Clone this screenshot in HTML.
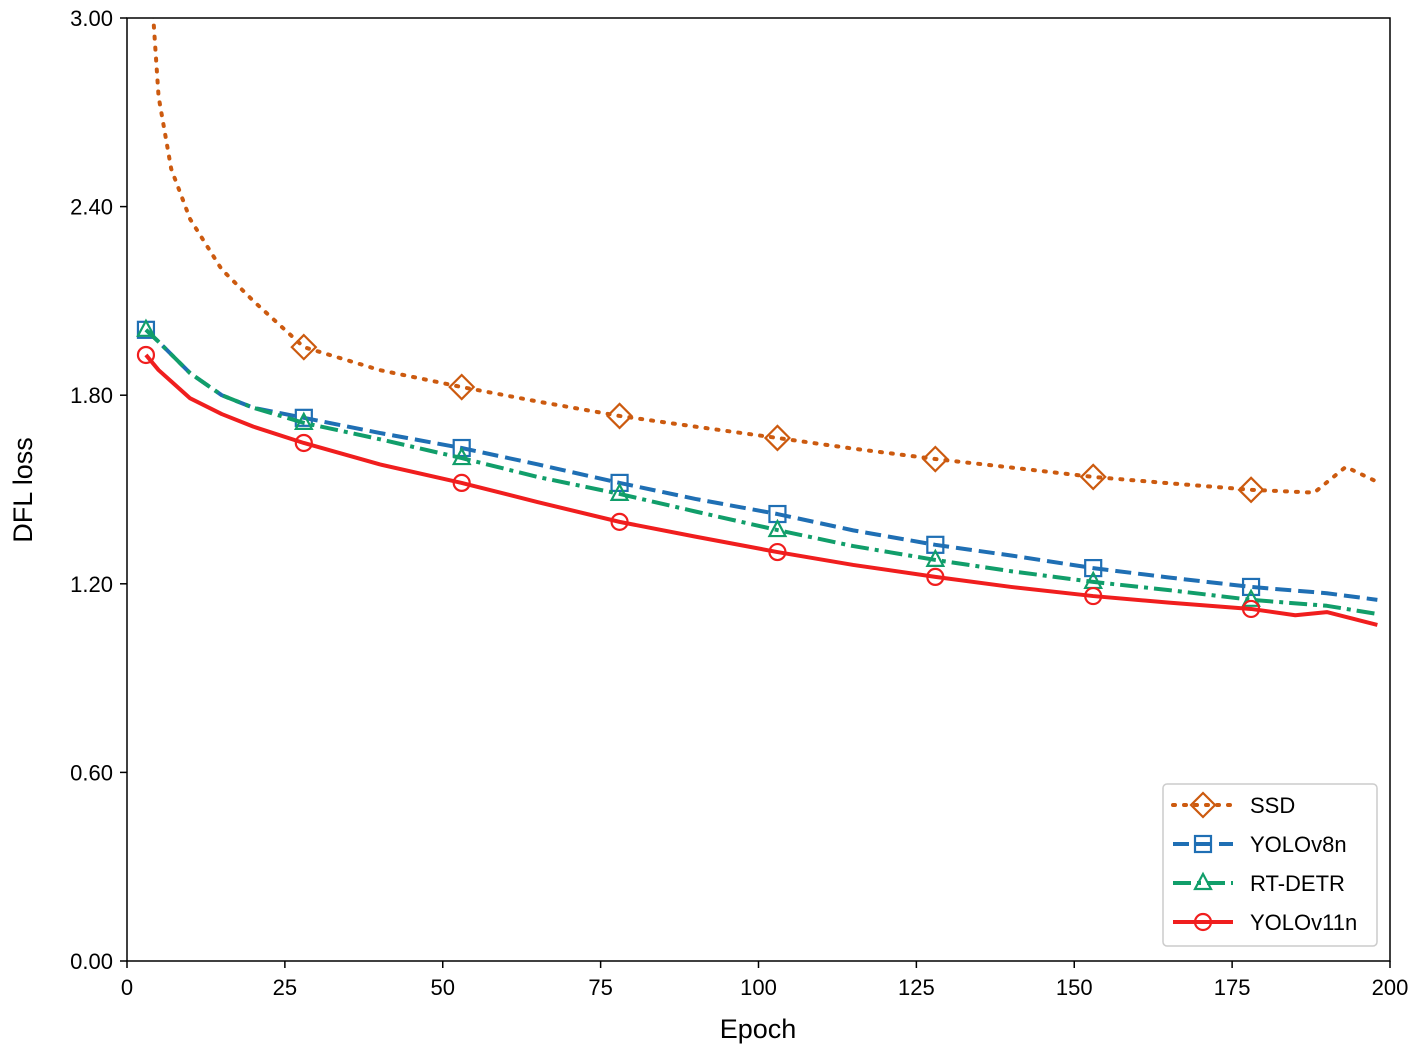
<!DOCTYPE html>
<html><head><meta charset="utf-8"><style>
html,body{margin:0;padding:0;background:#fff;}
svg{display:block;font-family:"WenQuanYi Zen Hei","Liberation Sans",sans-serif;}
</style></head><body>
<svg id="chart" width="1417" height="1052" viewBox="0 0 1417 1052" xmlns="http://www.w3.org/2000/svg">
<defs><clipPath id="clip"><rect x="127" y="18" width="1263" height="943"/></clipPath></defs>
<g id="plot" clip-path="url(#clip)"></g>
<rect x="127" y="18" width="1263" height="943" fill="none" stroke="#000" stroke-width="1.5"/>
<g id="axes"></g>
<text x="758" y="1038" font-size="27" text-anchor="middle">Epoch</text>
<text transform="translate(32,490) rotate(-90)" font-size="27" text-anchor="middle">DFL loss</text>
<g id="legend"></g>
</svg>
<script>
const xTicks=[0,25,50,75,100,125,150,175,200];
const yTicks=[0,0.6,1.2,1.8,2.4,3.0];
const yTickLabels=["0.00","0.60","1.20","1.80","2.40","3.00"];
const seriesNames=["SSD","YOLOv8n","RT-DETR","YOLOv11n"];
const ssdEpochs=[3,4,5,7,10,15,20,28,40,53,65,78,90,103,115,128,140,153,165,178,188,193,198];
const ssdValues=[3.5,3.05,2.75,2.52,2.36,2.2,2.1,1.953,1.88,1.826,1.78,1.734,1.70,1.664,1.63,1.597,1.57,1.54,1.52,1.499,1.49,1.572,1.524];
const v8Epochs=[3,5,10,15,20,28,40,53,65,78,90,103,115,128,140,153,165,178,190,198];
const v8Values=[2.008,1.97,1.87,1.80,1.76,1.728,1.68,1.632,1.58,1.521,1.47,1.422,1.37,1.324,1.29,1.250,1.22,1.190,1.17,1.149];
const rtEpochs=[3,5,10,15,20,28,40,53,65,78,90,103,115,128,140,153,165,178,190,198];
const rtValues=[2.008,1.97,1.87,1.80,1.76,1.712,1.66,1.600,1.54,1.486,1.43,1.371,1.32,1.276,1.24,1.206,1.18,1.149,1.13,1.104];
const v11Epochs=[3,5,10,15,20,28,40,53,65,78,90,103,115,128,140,153,165,178,185,190,198];
const v11Values=[1.928,1.88,1.79,1.74,1.70,1.648,1.58,1.521,1.46,1.397,1.35,1.301,1.26,1.222,1.19,1.161,1.14,1.120,1.10,1.11,1.069];
const markerEpochs=[3,28,53,78,103,128,153,178];
const NS="http://www.w3.org/2000/svg";
const X=e=>127+(e/200)*1263;
const Y=v=>961-(v/3)*943;
function mk(t,a,p){const el=document.createElementNS(NS,t);for(const k in a)el.setAttribute(k,a[k]);p.appendChild(el);return el;}
function interp(xs,ys,x){for(let i=0;i<xs.length-1;i++){if(x>=xs[i]&&x<=xs[i+1]){const t=(x-xs[i])/(xs[i+1]-xs[i]);return ys[i]+t*(ys[i+1]-ys[i]);}}return ys[ys.length-1];}
const axes=document.getElementById('axes');
xTicks.forEach(t=>{
  const l=mk('line',{x1:X(t),x2:X(t),y1:961,y2:968,stroke:'#000','stroke-width':1.5},axes);
  
  
  const tx=mk('text',{x:X(t),y:995,'font-size':22,'text-anchor':'middle'},axes);tx.textContent=t;
  
  
});
yTicks.forEach((t,i)=>{
  const l=mk('line',{x1:120,x2:127,y1:Y(t),y2:Y(t),stroke:'#000','stroke-width':1.5},axes);
  
  
  const tx=mk('text',{x:113,y:Y(t)+8,'font-size':22,'text-anchor':'end'},axes);tx.textContent=yTickLabels[i];
  
  
});
const styles=[
 {c:'#cc5a0f',dash:'2 9',cap:'round',m:'diamond'},
 {c:'#1f6fb4',dash:'16 7',cap:'butt',m:'square'},
 {c:'#119e6a',dash:'18 6 4 6',cap:'butt',m:'triangle'},
 {c:'#f01e1e',dash:'',cap:'butt',m:'circle'}];
const data=[[ssdEpochs,ssdValues],[v8Epochs,v8Values],[rtEpochs,rtValues],[v11Epochs,v11Values]];
const plot=document.getElementById('plot');
function marker(g,type,cx,cy,c){
  let el;
  if(type==='diamond')el=mk('polygon',{points:`${cx},${cy-12} ${cx+12},${cy} ${cx},${cy+12} ${cx-12},${cy}`},g);
  else if(type==='square')el=mk('rect',{x:cx-8,y:cy-8,width:16,height:16},g);
  else if(type==='triangle')el=mk('polygon',{points:`${cx},${cy-9} ${cx+8},${cy+6} ${cx-8},${cy+6}`},g);
  else el=mk('circle',{cx:cx,cy:cy,r:8},g);
  el.setAttribute('fill','none');el.setAttribute('stroke',c);el.setAttribute('stroke-width',2.2);
  return el;
}
data.forEach(([xs,ys],si)=>{
  const s=styles[si];
  const g=mk('g',{},plot);
  
  
  const d=xs.map((x,i)=>(i?'L':'M')+X(x)+','+Y(ys[i])).join(' ');
  const p=mk('path',{d:d,fill:'none',stroke:s.c,'stroke-width':4,'stroke-dasharray':s.dash,'stroke-linecap':s.cap,'stroke-linejoin':'round'},g);
  
  
  markerEpochs.forEach(e=>{
    if(si===0&&e<20)return;
    const m=marker(g,s.m,X(e),Y(interp(xs,ys,e)),s.c);
    
    
  });
});
const lg=document.getElementById('legend');
const box=mk('rect',{x:1163,y:784,width:214,height:162,rx:4,fill:'#fff',stroke:'#ccc','stroke-width':1.5},lg);


seriesNames.forEach((n,i)=>{
  const s=styles[i];const y=805+i*39;
  const g=mk('g',{},lg);
  
  
  mk('line',{x1:1173,x2:1233,y1:y,y2:y,stroke:s.c,'stroke-width':4,'stroke-dasharray':s.dash,'stroke-linecap':s.cap},g);
  marker(g,s.m,1203,y,s.c);
  const t=mk('text',{x:1250,y:y+8,'font-size':22},g);t.textContent=n;
});
</script>
</body></html>
